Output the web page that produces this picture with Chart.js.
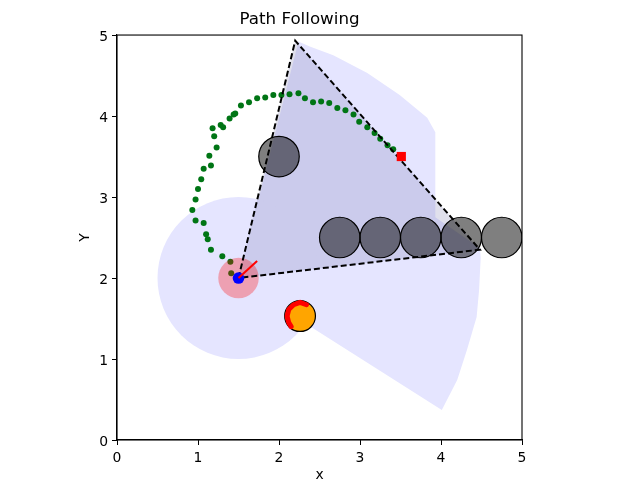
<!DOCTYPE html>
<html>
<head>
<meta charset="utf-8">
<script src="https://cdn.jsdelivr.net/npm/chart.js@4"></script>
<style>
  html, body { margin: 0; padding: 0; background: #fff; }
  #wrap { width: 639px; height: 479px; }
</style>
</head>
<body>
<div id="wrap"><canvas id="chart"></canvas></div>
<script>
// ---- data ----
const xTicks = [0, 1, 2, 3, 4, 5]
const yTicks = [0, 1, 2, 3, 4, 5]

// robot
const robotX = [1.5]
const robotY = [2.0]
const robotR = 0.25
const robotDotR = 0.072
const sensorR = 1.0
const headingX = [1.5, 1.73]
const headingY = [2.0, 2.21]

// goal
const goalX = [3.51]
const goalY = [3.5]

// travelled path
const pathX = [1.41, 1.40, 1.30, 1.16, 1.12, 1.10, 1.07, 0.97, 0.93, 0.97, 1.00, 1.04, 1.07, 1.16, 1.14,
  1.23, 1.20, 1.18, 1.28, 1.31, 1.39, 1.44, 1.46, 1.53, 1.63, 1.73, 1.83, 1.93, 2.03, 2.13, 2.24,
  2.32, 2.42, 2.52, 2.62, 2.72, 2.82, 2.92, 2.99, 3.09, 3.18, 3.25, 3.34, 3.41]
const pathY = [2.06, 2.20, 2.27, 2.35, 2.48, 2.54, 2.68, 2.71, 2.84, 2.97, 3.10, 3.22, 3.35, 3.39, 3.51,
  3.61, 3.75, 3.85, 3.89, 3.86, 3.97, 4.02, 4.03, 4.13, 4.17, 4.22, 4.23, 4.26, 4.26, 4.27, 4.28,
  4.22, 4.17, 4.18, 4.16, 4.10, 4.07, 4.02, 3.93, 3.86, 3.79, 3.72, 3.64, 3.59]

// static obstacles
const obstacleX = [2.0, 2.75, 3.25, 3.75, 4.25, 4.75]
const obstacleY = [3.5, 2.5, 2.5, 2.5, 2.5, 2.5]
const obstacleR = 0.25

// moving obstacle and its trail
const moverX = [2.26]
const moverY = [1.53]
const moverR = 0.19
const trailX = [2.34, 2.26, 2.18, 2.12, 2.10, 2.12, 2.15]
const trailY = [1.67, 1.70, 1.67, 1.61, 1.53, 1.45, 1.40]

// scan fan outline
const fanX = [1.5, 2.24, 2.38, 2.67, 3.09, 3.49, 3.83, 3.93, 3.93, 4.48, 4.49, 4.47, 4.44, 4.32, 4.20, 4.01, 2.42, 1.5]
const fanY = [2.0, 4.92, 4.86, 4.75, 4.53, 4.26, 3.98, 3.80, 2.75, 2.37, 2.25, 1.85, 1.52, 1.11, 0.74, 0.37, 1.38, 2.0]

// visible triangle
const triX = [1.5, 2.2, 4.48, 1.5]
const triY = [2.0, 4.93, 2.35, 2.0]

const pts = (xs, ys) => xs.map((x, i) => ({x: x, y: ys[i]}))

// radius in data units -> pixels, through the x scale
const rad = r => ctx => {
  const s = ctx.chart.scales.x
  if (!s) return 0
  const v = Math.abs(s.getPixelForValue(r) - s.getPixelForValue(0))
  return isFinite(v) ? v : 0
}

const font = {family: 'DejaVu Sans', size: 13.9}

// box round the plot
const frame = {
  id: 'frame',
  afterDatasetsDraw(chart) {
    const {ctx, chartArea: a} = chart
    ctx.save()
    ctx.strokeStyle = '#000'
    ctx.lineWidth = 1.1
    ctx.strokeRect(a.left, a.top, a.right - a.left, a.bottom - a.top)
    ctx.restore()
  }
}

const circle = (data, r, fill, order, extra) => Object.assign({
  data: data, order: order, showLine: false,
  pointRadius: rad(r), pointHoverRadius: rad(r),
  backgroundColor: fill, pointBackgroundColor: fill,
  pointBorderWidth: 0, borderWidth: 0
}, extra || {})

new Chart(document.getElementById('chart'), {
  type: 'scatter',
  data: {
    datasets: [
      // lower order = drawn on top
      {data: pts(fanX, fanY), order: 20, showLine: true, fill: 'shape',
        backgroundColor: '#e5e5ff', borderWidth: 0, pointRadius: 0},
      circle(pts(robotX, robotY), sensorR, '#e5e5ff', 19),
      {data: pts(triX, triY), order: 18, showLine: true, fill: 'shape',
        backgroundColor: 'rgba(100,100,160,0.2)', borderWidth: 0, pointRadius: 0},
      circle(pts(obstacleX, obstacleY), obstacleR, 'rgba(0,0,0,0.5)', 17,
        {pointBorderWidth: 1.2, pointBorderColor: '#000'}),
      {data: pts(pathX, pathY), order: 16, showLine: false, pointRadius: 3, pointHoverRadius: 3,
        pointBackgroundColor: '#007515', pointBorderWidth: 0},
      circle(pts(robotX, robotY), robotR, 'rgba(255,0,0,0.3)', 15),
      circle(pts(moverX, moverY), moverR, '#ffa500', 14,
        {pointBorderWidth: 1.2, pointBorderColor: '#000'}),
      {data: pts(trailX, trailY), order: 13, showLine: true, borderColor: '#ff0000', borderWidth: 5,
        borderCapStyle: 'round', borderJoinStyle: 'round', pointRadius: 0},
      {data: pts(triX, triY), order: 12, showLine: true, borderColor: '#000', borderWidth: 2,
        borderDash: [6, 3], pointRadius: 0},
      circle(pts(robotX, robotY), robotDotR, '#0000ff', 11),
      {data: pts(headingX, headingY), order: 10, showLine: true, borderColor: '#ff0000', borderWidth: 2,
        pointRadius: 0},
      {data: pts(goalX, goalY), order: 9, showLine: false, pointStyle: 'rect', pointRadius: 6.5,
        pointHoverRadius: 6.5, pointBackgroundColor: '#ff0000', pointBorderWidth: 0}
    ]
  },
  options: {
    responsive: true,
    maintainAspectRatio: false,
    animation: false,
    events: [],
    layout: {padding: {left: 77, right: 117, top: 0, bottom: 0}},
    plugins: {
      legend: {display: false},
      tooltip: {enabled: false},
      title: {display: true, text: 'Path Following', color: '#000',
        font: {family: 'DejaVu Sans', size: 16.7, weight: 'normal'}, padding: {top: 10, bottom: 5}}
    },
    scales: {
      x: {
        type: 'linear', min: 0, max: 5,
        afterBuildTicks: s => { s.ticks = xTicks.map(v => ({value: v})) },
        afterFit: s => { s.height = 39 },
        ticks: {color: '#000', font: font, padding: 5, maxRotation: 0},
        grid: {drawOnChartArea: false, drawTicks: true, tickLength: 5, color: '#000'},
        border: {display: true, color: '#000', width: 1.1},
        title: {display: true, text: 'x', color: '#000', font: font, padding: {top: 0, bottom: -5}}
      },
      y: {
        type: 'linear', min: 0, max: 5,
        afterBuildTicks: s => { s.ticks = yTicks.map(v => ({value: v})) },
        afterFit: s => { s.width = 40 },
        ticks: {color: '#000', font: font, padding: 4, labelOffset: 2},
        grid: {drawOnChartArea: false, drawTicks: true, tickLength: 5, color: '#000'},
        border: {display: true, color: '#000', width: 1.1},
        title: {display: true, text: 'Y', color: '#000', font: font, padding: 0}
      }
    }
  },
  plugins: [frame]
})
</script>
</body>
</html>
